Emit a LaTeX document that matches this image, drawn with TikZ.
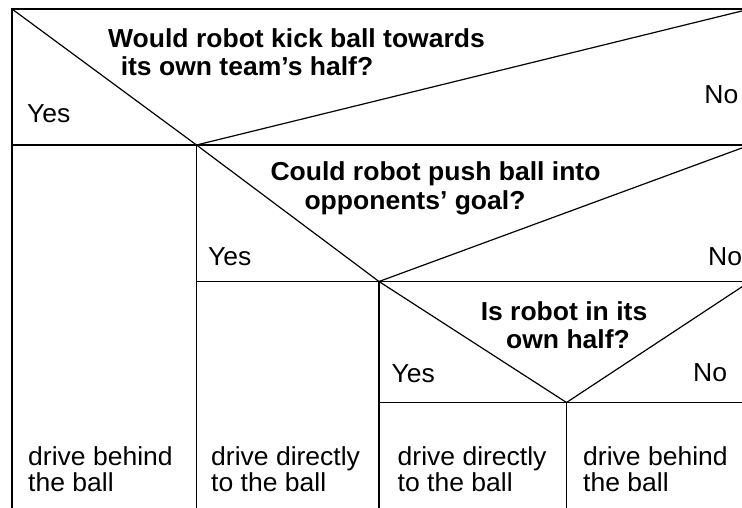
\documentclass[tikz,border=0pt]{standalone}
\usepackage{fontspec}
\setmainfont[FakeStretch=1.02]{Liberation Sans}
\begin{document}
\begin{tikzpicture}[x=1pt,y=-1pt,
  frame/.style={line width=1.6pt},
  slant/.style={line width=1.2pt},
  lbl/.style={anchor=base west, inner sep=0pt, font=\fontsize{26}{28}\selectfont},
  lble/.style={anchor=base east, inner sep=0pt, font=\fontsize{26}{28}\selectfont},
  qline/.style={anchor=base, inner sep=0pt, font=\fontsize{26}{28}\selectfont\bfseries},
]
\useasboundingbox (0,0) rectangle (742,508);
\clip (0,0) rectangle (742,508);

% corner points of the structogram
\coordinate (tl) at (12,9);
\coordinate (tr) at (750,9);
\coordinate (bl) at (12,512);
\coordinate (a)  at (196.5,145);
\coordinate (aL) at (12,145);
\coordinate (aR) at (750,145);
\coordinate (b)  at (379,281.5);
\coordinate (bL) at (196.5,281.5);
\coordinate (bR) at (750,281.5);
\coordinate (c)  at (566.5,402.5);
\coordinate (cL) at (379,402.5);
\coordinate (cR) at (750,402.5);

% outer frame and block separators
\draw[frame] (bl) -- (tl) -- (tr);
\draw[frame] (aL) -- (aR);
\draw[frame] (a) -- (a |- bl);
\draw[frame] (bL) -- (bR);
\draw[frame] (b) -- (b |- bl);
\draw[frame] (cL) -- (cR);
\draw[frame] (c) -- (c |- bl);

% decision triangles
\draw[slant] (tl) -- (a) -- (tr);
\draw[slant] (a) -- (b) -- (aR);
\draw[slant] (b) -- (c) -- (bR);

% first decision
\node[qline] (q1a) at (296.5,48) {Would robot kick ball towards};
\node[qline] (q1b) at (247,76) {its own team’s half?};
\node[lbl] (y1) at (27,123) {Yes};
\node[lble] (n1) at (738.5,104) {No};

% second decision
\node[qline] (q2a) at (435.5,181) {Could robot push ball into};
\node[qline] (q2b) at (415,209) {opponents’ goal?};
\node[lbl] (y2) at (208,265) {Yes};
\node[lbl] (n2) at (708,265) {No};

% third decision
\node[qline] (q3a) at (564,320) {Is robot in its};
\node[qline] (q3b) at (568,348) {own half?};
\node[lbl] (y3) at (391.5,382) {Yes};
\node[lbl] (n3) at (693,381) {No};

% actions
\node[lbl] (s1a) at (28,465) {drive behind};
\node[lbl] (s1b) at (28,491) {the ball};
\node[lbl] (s2a) at (211,465) {drive directly};
\node[lbl] (s2b) at (211,491) {to the ball};
\node[lbl] (s3a) at (397.5,465) {drive directly};
\node[lbl] (s3b) at (397.5,491) {to the ball};
\node[lbl] (s4a) at (583,465) {drive behind};
\node[lbl] (s4b) at (583,491) {the ball};
\end{tikzpicture}
\end{document}
